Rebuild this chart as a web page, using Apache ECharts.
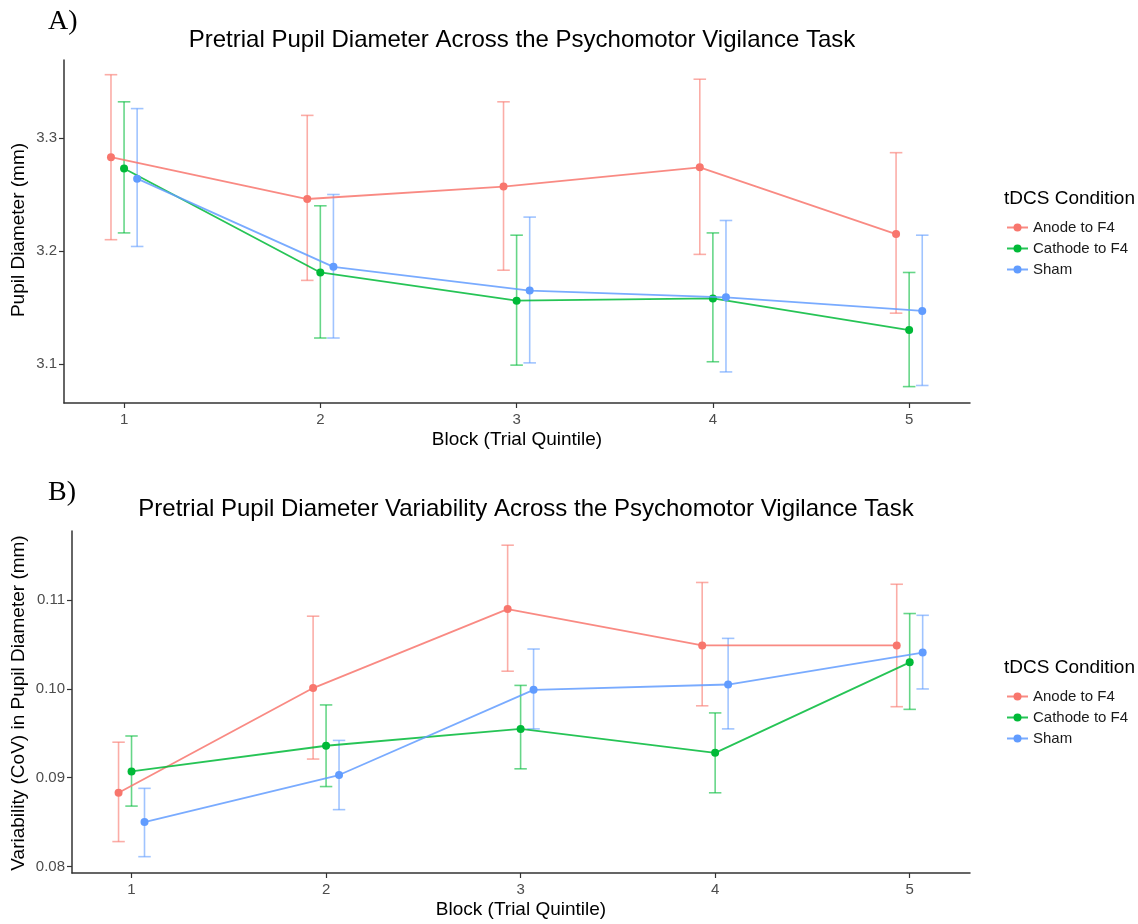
<!DOCTYPE html>
<html>
<head>
<meta charset="utf-8">
<script src="https://cdn.jsdelivr.net/npm/echarts@6/dist/echarts.min.js"></script>
<style>
html,body{margin:0;padding:0;background:#fff;}
#chart{width:1138px;height:924px;}
</style>
</head>
<body>
<div id="chart"></div>
<script>
// ---------- DATA ----------
const blocks = [1, 2, 3, 4, 5];
const conditions = ['Anode to F4', 'Cathode to F4', 'Sham'];

// Panel A: pretrial pupil diameter (mm)
const pupilAnode     = [3.283, 3.246, 3.257, 3.274, 3.215];
const pupilAnodeLo   = [3.210, 3.174, 3.183, 3.197, 3.145];
const pupilAnodeHi   = [3.356, 3.320, 3.332, 3.352, 3.287];
const pupilCathode   = [3.273, 3.181, 3.156, 3.158, 3.130];
const pupilCathodeLo = [3.216, 3.123, 3.099, 3.102, 3.080];
const pupilCathodeHi = [3.332, 3.240, 3.214, 3.216, 3.181];
const pupilSham      = [3.264, 3.186, 3.165, 3.159, 3.147];
const pupilShamLo    = [3.204, 3.123, 3.101, 3.093, 3.081];
const pupilShamHi    = [3.326, 3.250, 3.230, 3.227, 3.214];

// Panel B: variability (CoV) in pupil diameter
const covAnode     = [0.0883, 0.1001, 0.1090, 0.1049, 0.1049];
const covAnodeLo   = [0.0828, 0.0921, 0.1020, 0.0981, 0.0980];
const covAnodeHi   = [0.0940, 0.1082, 0.1162, 0.1120, 0.1118];
const covCathode   = [0.0907, 0.0936, 0.0955, 0.0928, 0.1030];
const covCathodeLo = [0.0868, 0.0890, 0.0910, 0.0883, 0.0977];
const covCathodeHi = [0.0947, 0.0982, 0.1004, 0.0973, 0.1085];
const covSham      = [0.0850, 0.0903, 0.0999, 0.1005, 0.1041];
const covShamLo    = [0.0811, 0.0864, 0.0955, 0.0955, 0.1000];
const covShamHi    = [0.0888, 0.0942, 0.1045, 0.1057, 0.1083];

const pupilTicks = [3.1, 3.2, 3.3];
const covTicks = [0.08, 0.09, 0.10, 0.11];

// ---------- STYLE / LAYOUT ----------
const colors = ['#F8766D', '#00BA38', '#619CFF'];
const dodgeWidth = 0.2;           // position_dodge width
const capHalf = 0.032;            // error bar cap half width (x units)
const FONT = 'Liberation Sans, Arial, sans-serif';

function dodgeOffset(i) { return (i - 1) * dodgeWidth / 3; }

const panelA = {
  means: [pupilAnode, pupilCathode, pupilSham],
  lo: [pupilAnodeLo, pupilCathodeLo, pupilShamLo],
  hi: [pupilAnodeHi, pupilCathodeHi, pupilShamHi]
};
const panelB = {
  means: [covAnode, covCathode, covSham],
  lo: [covAnodeLo, covCathodeLo, covShamLo],
  hi: [covAnodeHi, covCathodeHi, covShamHi]
};

function errRender(color) {
  return function (params, api) {
    const x = api.value(0), lo = api.value(1), hi = api.value(2);
    const pLo = api.coord([x, lo]);
    const pHi = api.coord([x, hi]);
    const l = api.coord([x - capHalf, lo])[0];
    const r = api.coord([x + capHalf, lo])[0];
    const style = { stroke: color, lineWidth: 1.6, opacity: 0.6 };
    return {
      type: 'group',
      children: [
        { type: 'line', shape: { x1: pLo[0], y1: pLo[1], x2: pHi[0], y2: pHi[1] }, style: style },
        { type: 'line', shape: { x1: l, y1: pHi[1], x2: r, y2: pHi[1] }, style: style },
        { type: 'line', shape: { x1: l, y1: pLo[1], x2: r, y2: pLo[1] }, style: style }
      ]
    };
  };
}

function buildSeries(panel, axisIdx) {
  const out = [];
  conditions.forEach((name, i) => {
    out.push({
      type: 'custom',
      name: name + ' err ' + axisIdx,
      xAxisIndex: axisIdx, yAxisIndex: axisIdx,
      renderItem: errRender(colors[i]),
      encode: { x: 0, y: [1, 2] },
      clip: false,
      silent: true,
      z: 2,
      data: blocks.map((b, k) => [b + dodgeOffset(i), panel.lo[i][k], panel.hi[i][k]])
    });
  });
  conditions.forEach((name, i) => {
    out.push({
      type: 'line',
      name: name,
      xAxisIndex: axisIdx, yAxisIndex: axisIdx,
      data: blocks.map((b, k) => [b + dodgeOffset(i), panel.means[i][k]]),
      symbol: 'circle',
      symbolSize: 8,
      showSymbol: true,
      color: colors[i],
      lineStyle: { width: 1.8, color: colors[i], opacity: 0.85 },
      itemStyle: { color: colors[i] },
      z: 3 + i,
      animation: false
    });
  });
  return out;
}

function xAxis(gridIndex) {
  return {
    type: 'value', gridIndex: gridIndex, min: 0.694, max: 5.31,
    axisLine: { show: true, onZero: false, lineStyle: { color: '#333', width: 1.5 } },
    axisTick: { show: true, length: 5, customValues: blocks, lineStyle: { color: '#333', width: 1.2 } },
    axisLabel: { customValues: blocks, color: '#4D4D4D', fontSize: 15, fontFamily: FONT, margin: 9 },
    splitLine: { show: false }
  };
}

function yAxis(gridIndex, min, max, ticks, digits) {
  return {
    type: 'value', gridIndex: gridIndex, min: min, max: max,
    axisLine: { show: true, onZero: false, lineStyle: { color: '#333', width: 1.5 } },
    axisTick: { show: true, length: 5, customValues: ticks, lineStyle: { color: '#333', width: 1.2 } },
    axisLabel: { customValues: ticks, color: '#4D4D4D', fontSize: 15, fontFamily: FONT, margin: 7,
                 formatter: v => v.toFixed(digits) },
    splitLine: { show: false }
  };
}

function legend(top) {
  return {
    orient: 'vertical', left: 1001, top: top,
    data: conditions,
    itemWidth: 21, itemHeight: 10, itemGap: 6,
    textStyle: { fontSize: 15, color: '#1a1a1a', fontFamily: FONT },
    selectedMode: false
  };
}

const chart = echarts.init(document.getElementById('chart'), null, { renderer: 'canvas' });

const option = {
  backgroundColor: '#ffffff',
  animation: false,
  title: [
    { text: 'A)', left: 43, top: 3, textStyle: { fontFamily: 'Liberation Serif, Times New Roman, serif', fontSize: 28, fontWeight: 'normal', color: '#000' } },
    { text: 'Pretrial Pupil Diameter Across the Psychomotor Vigilance Task', left: 517, top: 23, textAlign: 'center',
      textStyle: { fontFamily: FONT, fontSize: 24, fontWeight: 'normal', color: '#000' } },
    { text: 'B)', left: 43, top: 474, textStyle: { fontFamily: 'Liberation Serif, Times New Roman, serif', fontSize: 28, fontWeight: 'normal', color: '#000' } },
    { text: 'Pretrial Pupil Diameter Variability Across the Psychomotor Vigilance Task', left: 521, top: 492, textAlign: 'center',
      textStyle: { fontFamily: FONT, fontSize: 24, fontWeight: 'normal', color: '#000' } },
    { text: 'tDCS Condition', left: 999, top: 184, textStyle: { fontFamily: FONT, fontSize: 19, fontWeight: 'normal', color: '#000' } },
    { text: 'tDCS Condition', left: 999, top: 653, textStyle: { fontFamily: FONT, fontSize: 19, fontWeight: 'normal', color: '#000' } }
  ],
  legend: [legend(215), legend(684)],
  grid: [
    { left: 64, top: 60, width: 906, height: 343, containLabel: false },
    { left: 72, top: 531, width: 898, height: 342, containLabel: false }
  ],
  xAxis: [xAxis(0), xAxis(1)],
  yAxis: [yAxis(0, 3.0655, 3.369, pupilTicks, 1), yAxis(1, 0.07926, 0.1178, covTicks, 2)],
  graphic: [
    { type: 'text', x: 517, y: 440, style: { text: 'Block (Trial Quintile)', fontSize: 19, fontFamily: FONT, fill: '#000', align: 'center', verticalAlign: 'middle' } },
    { type: 'text', x: 521, y: 910, style: { text: 'Block (Trial Quintile)', fontSize: 19, fontFamily: FONT, fill: '#000', align: 'center', verticalAlign: 'middle' } },
    { type: 'text', x: 19, y: 230, rotation: Math.PI / 2, style: { text: 'Pupil Diameter (mm)', fontSize: 19, fontFamily: FONT, fill: '#000', align: 'center', verticalAlign: 'middle' } },
    { type: 'text', x: 19, y: 703, rotation: Math.PI / 2, style: { text: 'Variability (CoV) in Pupil Diameter (mm)', fontSize: 19, fontFamily: FONT, fill: '#000', align: 'center', verticalAlign: 'middle' } }
  ],
  series: buildSeries(panelA, 0).concat(buildSeries(panelB, 1))
};

chart.setOption(option);
</script>
</body>
</html>
